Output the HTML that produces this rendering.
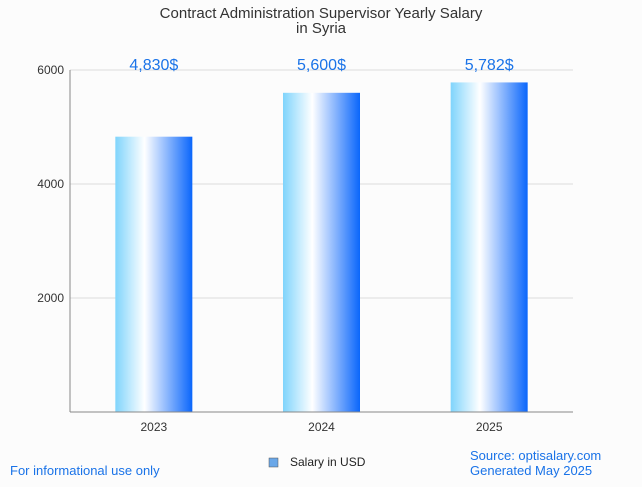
<!DOCTYPE html>
<html><head><meta charset="utf-8"><style>
body{margin:0;background:#fcfcfc;font-family:"Liberation Sans",sans-serif}
svg text{font-family:"Liberation Sans",sans-serif}
</style></head><body>
<svg width="642" height="482">
<defs><linearGradient id="g" x1="0" x2="1" y1="0" y2="0">
<stop offset="0" stop-color="#7fd4fc"/><stop offset="0.38" stop-color="#ffffff"/><stop offset="1" stop-color="#0a66fb"/></linearGradient></defs>
<rect width="642" height="482" fill="#fcfcfc"/>
<text x="321" y="18" text-anchor="middle" font-size="15" fill="#333">Contract Administration Supervisor Yearly Salary</text>
<text x="321" y="33" text-anchor="middle" font-size="15" fill="#333">in Syria</text>
<g id="grid"></g><g id="bars"></g>
<line x1="70" y1="70" x2="70" y2="412" stroke="#888"/>
<line x1="70" y1="412" x2="573" y2="412" stroke="#888"/>
<rect x="269" y="458" width="9" height="9" fill="#6aa7e8" stroke="#555" stroke-width="0.5"/>
<text x="290" y="466" font-size="12" fill="#222">Salary in USD</text>
<text x="10" y="475" font-size="13" fill="#1a73e8">For informational use only</text>
<text x="470" y="460" font-size="13" fill="#1a73e8">Source: optisalary.com</text>
<text x="470" y="475" font-size="13" fill="#1a73e8">Generated May 2025</text>
</svg>
<script>
const categories=["2023","2024","2025"];
const values=[4830,5600,5782];
const valueLabels=["4,830$","5,600$","5,782$"];
const yTicks=[2000,4000,6000];
const ns="http://www.w3.org/2000/svg";
const x0=70,x1=573,yBase=412,yTop=70,yMax=6000;
const y=v=>yBase-(v/yMax)*(yBase-yTop);
const band=(x1-x0)/categories.length;
const cx=i=>x0+band*(i+0.5);
function mk(t,a,p){const e=document.createElementNS(ns,t);for(const k in a)e.setAttribute(k,a[k]);p.appendChild(e);return e;}
const grid=document.getElementById('grid'),bars=document.getElementById('bars');
yTicks.forEach(t=>{
 const l=mk('line',{x1:x0,x2:x1,y1:y(t),y2:y(t),stroke:'#ddd'},grid);
 
 
 const tx=mk('text',{x:x0-6,y:y(t)+4,'text-anchor':'end','font-size':12,fill:'#333'},grid);
 tx.textContent=t;
 
 
});
categories.forEach((c,i)=>{
 const w=77;
 const r=mk('rect',{x:cx(i)-w/2,y:y(values[i]),width:w,height:yBase-y(values[i]),fill:'url(#g)'},bars);
 
 
 const vl=mk('text',{x:cx(i),y:70,'text-anchor':'middle','font-size':16,fill:'#1a73e8'},bars);
 vl.textContent=valueLabels[i];
 
 
 const xl=mk('text',{x:cx(i),y:431,'text-anchor':'middle','font-size':12,fill:'#333'},bars);
 xl.textContent=c;
 
 
});
</script>
</body></html>
